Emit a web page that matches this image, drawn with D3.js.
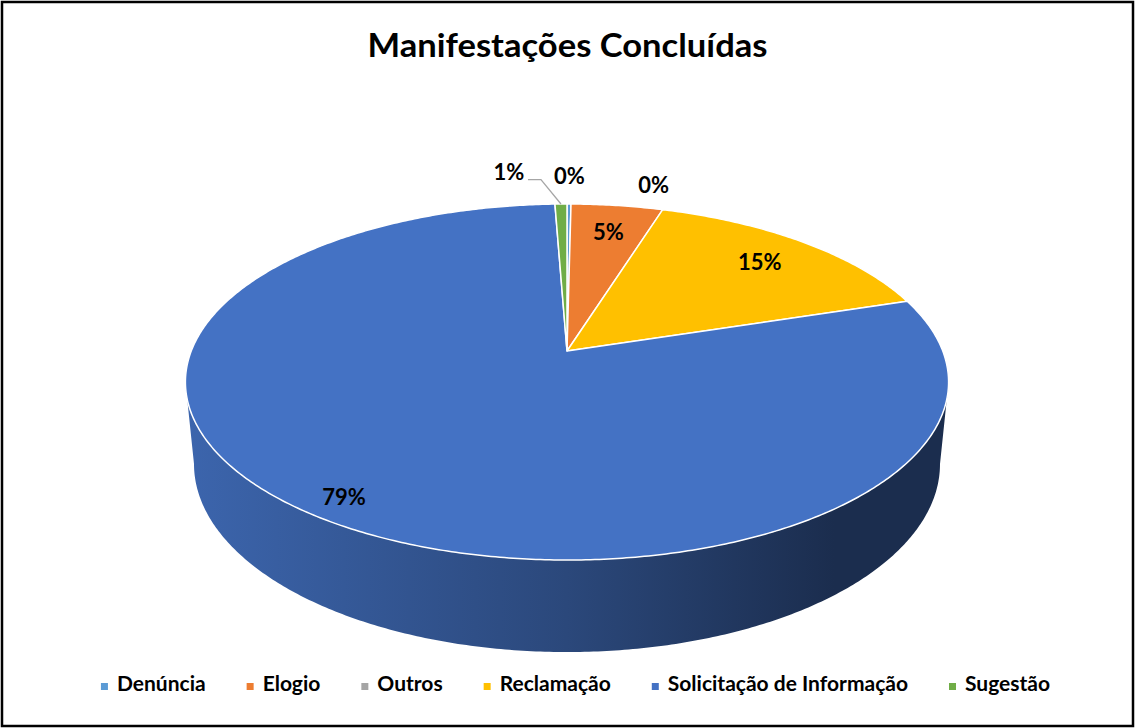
<!DOCTYPE html>
<html>
<head>
<meta charset="utf-8">
<script src="https://cdn.jsdelivr.net/npm/d3@7"></script>
<style>
  body { margin: 0; background: #fff; }
  text { font-family: Lato, "Open Sans", sans-serif; font-weight: bold; fill: #000; }
</style>
</head>
<body>
<svg id="chart"></svg>
<script>
// data (percent of total)
const categories = ["Denúncia", "Elogio", "Outros", "Reclamação", "Solicitação de Informação", "Sugestão"];
const values = [0.2, 4.6, 0, 15.3, 79.3, 0.6];
const colors = ["#5B9BD5", "#ED7D31", "#A5A5A5", "#FFC000", "#4472C4", "#70AD47"];
const title = "Manifestações Concluídas";

// label nudges for the small slices whose labels sit outside
const outsideNudge = {0: [0, -4], 2: [-25, -2], 5: [-51, -8]};

const W = 1135, H = 728;
const svg = d3.select("#chart").attr("width", W).attr("height", H);

svg.append("rect")
    .attr("x", 2).attr("y", 2)
    .attr("width", W - 4).attr("height", H - 4)
    .attr("fill", "#fff")
    .attr("stroke", "#000")
    .attr("stroke-width", 2.5);

svg.append("text")
    .attr("x", W / 2).attr("y", 57)
    .attr("text-anchor", "middle")
    .attr("font-size", "32px")
    .attr("textLength", 400)
    .attr("lengthAdjust", "spacingAndGlyphs")
    .text(title);

// simple perspective camera for the tilted disc
const cam = {cx: 567, cy: 351, f: 1916, sinA: 0.4594, cosA: 0.888, z0: 5.099, thick: 0.248};
function project(theta, r, depth) {
    const u = r * Math.sin(theta), v = -r * Math.cos(theta);
    const Y = v * cam.sinA + depth * cam.cosA;
    const Z = cam.z0 - v * cam.cosA + depth * cam.sinA;
    return [cam.cx + cam.f * u / Z, cam.cy + cam.f * Y / Z];
}

const pie = d3.pie().sort(null).value(d => d)
    .startAngle(0).endAngle(2 * Math.PI);
const arcs = pie(values);
const total = d3.sum(values);

// where the side wall stops being visible (horizontal extremes)
function extreme(depth, from, to, sign) {
    let best = from, bx = -Infinity;
    for (let t = from; t <= to; t += 0.001) {
        const x = sign * project(t, 1, depth)[0];
        if (x > bx) { bx = x; best = t; }
    }
    return best;
}
const topR = extreme(0, 0, Math.PI, 1), topL = extreme(0, Math.PI, 2 * Math.PI, -1);
const botR = extreme(cam.thick, 0, Math.PI, 1), botL = extreme(cam.thick, Math.PI, 2 * Math.PI, -1);

const defs = svg.append("defs");
const line = d3.line();

function sample(a0, a1, r, depth) {
    const n = Math.max(2, Math.ceil(Math.abs(a1 - a0) / 0.01));
    return d3.range(n + 1).map(i => project(a0 + (a1 - a0) * i / n, r, depth));
}

// side walls
arcs.forEach((a, i) => {
    const s0 = Math.max(a.startAngle, topR), s1 = Math.min(a.endAngle, topL);
    if (s1 <= s0) return;
    const b0 = s0 === topR ? botR : s0, b1 = s1 === topL ? botL : s1;
    const gid = "side" + i;
    const base = d3.color(colors[i]);
    const g = defs.append("linearGradient").attr("id", gid)
        .attr("x1", 0).attr("x2", 1).attr("y1", 0).attr("y2", 0);
    [[0, 0.35], [0.5, 1.3], [0.85, 2.6], [1, 2.6]].forEach(([o, k]) => {
        g.append("stop").attr("offset", o).attr("stop-color", base.darker(k).formatHex());
    });
    const pts = sample(s0, s1, 1, 0).concat(sample(b1, b0, 1, cam.thick));
    svg.append("path")
        .attr("d", line(pts) + "Z")
        .attr("fill", `url(#${gid})`);
});

// top faces
arcs.forEach((a, i) => {
    if (a.endAngle - a.startAngle <= 0) return;
    const pts = [[cam.cx, cam.cy]].concat(sample(a.startAngle, a.endAngle, 1, 0));
    svg.append("path")
        .attr("d", line(pts) + "Z")
        .attr("fill", colors[i])
        .attr("stroke", "#fff")
        .attr("stroke-width", 1.5)
        .attr("stroke-linejoin", "round");
});

// data labels
arcs.forEach((a, i) => {
    const share = values[i] / total;
    const mid = (a.startAngle + a.endAngle) / 2;
    const txt = Math.round(share * 100) + "%";
    const outside = share < 0.02;
    const r = outside ? 1.2 : (share > 0.5 ? 0.9 : 0.8);
    let [x, y] = project(mid, r, 0);
    if (outside) {
        const nd = outsideNudge[i] || [0, 0];
        x += nd[0]; y += nd[1];
    }
    svg.append("text")
        .attr("x", x).attr("y", y)
        .attr("text-anchor", "middle")
        .attr("dominant-baseline", "central")
        .attr("font-size", "22px")
        .text(txt);
    // leader line when the label was pushed away
    if (outside && Math.abs(outsideNudge[i] ? outsideNudge[i][0] : 0) > 40) {
        const edge = project(mid, 1, 0);
        const lx = x + 19, ly = y + 8;
        svg.append("path")
            .attr("d", line([[lx, ly], [lx + 13, ly], edge]))
            .attr("fill", "none")
            .attr("stroke", "#A6A6A6")
            .attr("stroke-width", 1.3);
    }
});

// legend
const legend = svg.append("g");
let lx = 0;
const gap = 41;
categories.forEach((c, i) => {
    const item = legend.append("g").attr("transform", `translate(${lx},0)`);
    item.append("rect")
        .attr("x", 0).attr("y", -8)
        .attr("width", 7).attr("height", 7)
        .attr("fill", colors[i]);
    const t = item.append("text")
        .attr("x", 16).attr("y", 0)
        .attr("font-size", "21px")
        .text(c);
    lx += 16 + t.node().getComputedTextLength() + gap;
});
const legW = lx - gap;
legend.attr("transform", `translate(${(W - legW) / 2 + 8},691)`);
</script>
</body>
</html>
